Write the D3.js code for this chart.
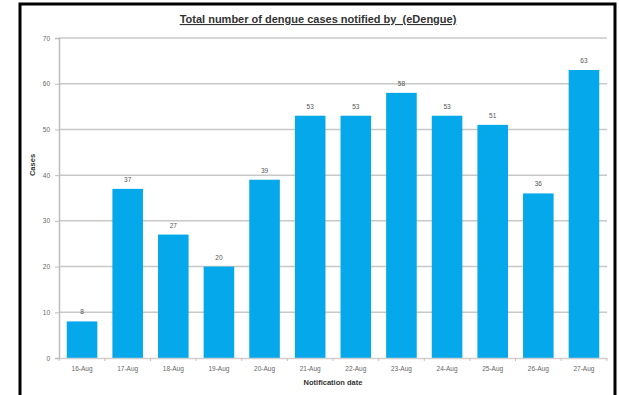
<!DOCTYPE html>
<html>
<head>
<meta charset="utf-8">
<script src="https://cdn.jsdelivr.net/npm/d3@7"></script>
<style>
  body { margin: 0; background: #fff; }
  svg { display: block; font-family: "Liberation Sans", Arial, sans-serif; }
</style>
</head>
<body>
<div id="chart"></div>
<script>
// data
const dates = ['16-Aug', '17-Aug', '18-Aug', '19-Aug', '20-Aug', '21-Aug',
  '22-Aug', '23-Aug', '24-Aug', '25-Aug', '26-Aug', '27-Aug']
const cases = [8, 37, 27, 20, 39, 53, 53, 58, 53, 51, 36, 63]
const yTicks = [0, 10, 20, 30, 40, 50, 60, 70]

const w = 619
const h = 395
const margin = { top: 38, right: 12, bottom: 37, left: 59 }

const svg = d3.select('#chart').append('svg')
  .attr('width', w)
  .attr('height', h)

// black frame, open at the bottom edge
svg.append('rect')
  .attr('x', 20).attr('y', 4)
  .attr('width', 595).attr('height', 400)
  .attr('fill', 'none')
  .attr('stroke', '#000')
  .attr('stroke-width', 3)

const x = d3.scaleBand()
  .domain(dates)
  .range([margin.left, w - margin.right])
  .paddingInner(0.33)
  .paddingOuter(0.17)

const y = d3.scaleLinear()
  .domain([0, 70])
  .range([h - margin.bottom, margin.top])

// gridlines
svg.append('g')
  .selectAll('line')
  .data(yTicks.slice(1))
  .enter().append('line')
  .attr('x1', margin.left).attr('x2', w - margin.right)
  .attr('y1', d => y(d)).attr('y2', d => y(d))
  .attr('stroke', '#c8c8c8')
  .attr('stroke-width', 1.5)

// y axis
const yAxis = svg.append('g')
  .attr('transform', `translate(${margin.left},0)`)
  .call(d3.axisLeft(y).tickValues(yTicks).tickSize(4).tickPadding(5))
yAxis.select('.domain').attr('stroke', '#bdbdbd').attr('stroke-width', 1.5)
yAxis.selectAll('.tick line').attr('stroke', '#bdbdbd')
yAxis.selectAll('text').attr('fill', '#666').attr('font-size', 6.5)

// bars
svg.append('g')
  .selectAll('rect')
  .data(cases)
  .enter().append('rect')
  .attr('x', (d, i) => x(dates[i]))
  .attr('y', d => y(d))
  .attr('width', x.bandwidth())
  .attr('height', d => y(0) - y(d))
  .attr('fill', '#05a8ea')

// value labels
svg.append('g')
  .selectAll('text')
  .data(cases)
  .enter().append('text')
  .attr('x', (d, i) => x(dates[i]) + x.bandwidth() / 2)
  .attr('y', d => y(d) - 7)
  .attr('text-anchor', 'middle')
  .attr('font-size', 6.5)
  .attr('fill', '#555')
  .text(d => d)

// x axis: ticks sit between the categories
const xAxis = svg.append('g')
  .attr('transform', `translate(0,${y(0)})`)
  .call(d3.axisBottom(x).tickSize(0).tickPadding(8))
xAxis.select('.domain').attr('stroke', '#cfcfcf').attr('stroke-width', 1.5)
xAxis.selectAll('text').attr('fill', '#666').attr('font-size', 6.5)

const step = x.step()
svg.append('g')
  .selectAll('line')
  .data(d3.range(dates.length + 1))
  .enter().append('line')
  .attr('x1', i => x(dates[0]) - step * x.paddingInner() / 2 + i * step)
  .attr('x2', i => x(dates[0]) - step * x.paddingInner() / 2 + i * step)
  .attr('y1', y(0)).attr('y2', y(0) + 3)
  .attr('stroke', '#e0b8b8')

// titles
svg.append('text')
  .attr('x', 318).attr('y', 23)
  .attr('text-anchor', 'middle')
  .attr('font-size', 11)
  .attr('font-weight', 'bold')
  .attr('fill', '#333')
  .attr('text-decoration', 'underline')
  .style('white-space', 'pre')
  .text('Total number of dengue cases notified by  (eDengue)')

svg.append('text')
  .attr('x', 333).attr('y', 385)
  .attr('text-anchor', 'middle')
  .attr('font-size', 7.5)
  .attr('font-weight', 'bold')
  .attr('fill', '#333')
  .text('Notification date')

svg.append('text')
  .attr('transform', 'translate(35,165) rotate(-90)')
  .attr('text-anchor', 'middle')
  .attr('font-size', 7.5)
  .attr('font-weight', 'bold')
  .attr('fill', '#333')
  .text('Cases')
</script>
</body>
</html>
